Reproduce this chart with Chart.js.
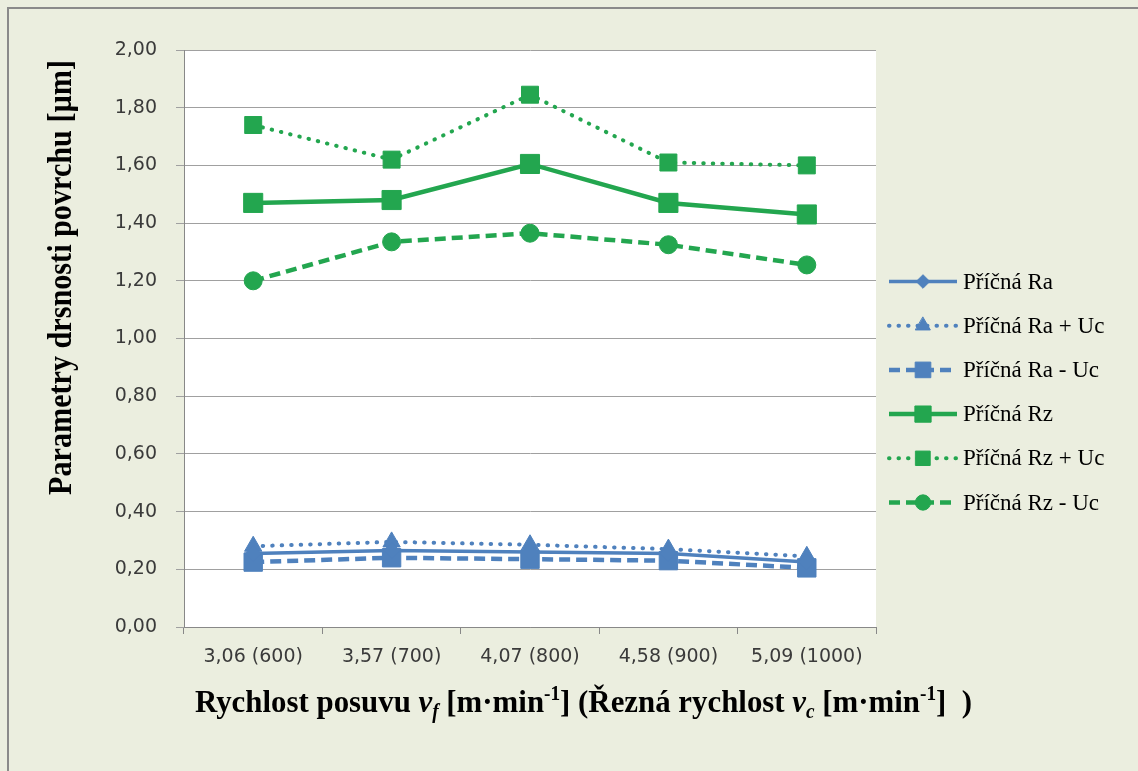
<!DOCTYPE html>
<html>
<head>
<meta charset="utf-8">
<title>Parametry drsnosti povrchu</title>
<script src="https://cdn.jsdelivr.net/npm/chart.js@4.4.1/dist/chart.umd.min.js"></script>
<style>
  html, body { margin: 0; padding: 0; background: #EBEEDF; }
  #wrap { width: 1138px; height: 771px; position: relative; }
</style>
</head>
<body>
<div id="wrap"><canvas id="chart" width="1138" height="771"></canvas></div>
<script>
// Feed / cutting speed categories
const categories = ['3,06 (600)', '3,57 (700)', '4,07 (800)', '4,58 (900)', '5,09 (1000)'];

// Roughness values [µm]
const raValues   = [0.255, 0.265, 0.26, 0.255, 0.225];
const raPlusUc   = [0.28, 0.295, 0.285, 0.27, 0.245];
const raMinusUc  = [0.225, 0.24, 0.235, 0.23, 0.205];
const rzValues   = [1.47, 1.48, 1.605, 1.47, 1.43];
const rzPlusUc   = [1.74, 1.62, 1.845, 1.61, 1.60];
const rzMinusUc  = [1.20, 1.335, 1.365, 1.325, 1.255];

const seriesNames = ['Příčná Ra', 'Příčná Ra + Uc', 'Příčná Ra - Uc', 'Příčná Rz', 'Příčná Rz + Uc', 'Příčná Rz - Uc'];

const yTitle = 'Parametry drsnosti povrchu [µm]';

const BLUE = '#4F81BD';
const GREEN = '#23A64F';
const BG = '#EBEEDF';

const DOTS = [0.5, 9];
const DASHES = [11, 6];

function series(label, data, color, opts) {
  return Object.assign({
    label, data,
    borderColor: color,
    backgroundColor: color,
    pointBackgroundColor: color,
    pointBorderColor: color,
    pointBorderWidth: 1,
    tension: 0,
    fill: false
  }, opts);
}

const datasets = [
  series(seriesNames[0], raValues, BLUE, { borderWidth: 3.5, pointStyle: 'rectRot', pointRadius: 8 }),
  series(seriesNames[1], raPlusUc, BLUE, { borderWidth: 4, borderDash: DOTS, borderCapStyle: 'round', pointStyle: 'triangle', pointRadius: 10 }),
  series(seriesNames[2], raMinusUc, BLUE, { borderWidth: 4.5, borderDash: DASHES, pointStyle: 'rect', pointRadius: 13 }),
  series(seriesNames[3], rzValues, GREEN, { borderWidth: 4.5, pointStyle: 'rect', pointRadius: 13.5 }),
  series(seriesNames[4], rzPlusUc, GREEN, { borderWidth: 4, borderDash: DOTS, borderCapStyle: 'round', pointStyle: 'rect', pointRadius: 12 }),
  series(seriesNames[5], rzMinusUc, GREEN, { borderWidth: 4.5, borderDash: DASHES, pointStyle: 'circle', pointRadius: 9 })
];

// Background, frame and white plot area
const framePlugin = {
  id: 'frame',
  beforeDraw(chart) {
    const { ctx, width, height, chartArea: a } = chart;
    ctx.save();
    ctx.fillStyle = BG;
    ctx.fillRect(0, 0, width, height);
    ctx.fillStyle = '#8A8A8A';
    ctx.fillRect(7, 7, width - 7, 2);
    ctx.fillRect(7, 7, 2, height - 7);
    ctx.fillStyle = '#FFFFFF';
    ctx.fillRect(a.left, a.top, a.right - a.left, a.bottom - a.top);
    ctx.restore();
  }
};

// Legend: line sample with marker, then the series name
const legendPlugin = {
  id: 'sideLegend',
  afterDraw(chart) {
    const { ctx } = chart;
    const x0 = 889, x1 = 957, xm = 923, tx = 963;
    ctx.save();
    chart.data.datasets.forEach((ds, i) => {
      const y = 281.5 + i * 44.2;
      ctx.strokeStyle = ds.borderColor;
      ctx.lineWidth = ds.borderWidth;
      ctx.lineCap = ds.borderCapStyle || 'butt';
      ctx.setLineDash(ds.borderDash || []);
      ctx.beginPath();
      ctx.moveTo(x0, y);
      ctx.lineTo(x1, y);
      ctx.stroke();
      ctx.setLineDash([]);
      ctx.fillStyle = ds.pointBackgroundColor;
      ctx.strokeStyle = ds.pointBorderColor;
      ctx.lineWidth = 1;
      Chart.helpers.drawPoint(ctx, {
        pointStyle: ds.pointStyle, radius: ds.pointRadius * 0.85, rotation: 0, borderWidth: 1
      }, xm, y);
      ctx.fillStyle = '#000';
      ctx.font = '23px "Liberation Serif", "Times New Roman", serif';
      ctx.textBaseline = 'middle';
      ctx.textAlign = 'left';
      ctx.fillText(ds.label, tx, y + 1);
    });
    ctx.restore();
  }
};

// Axis titles with italic symbols, sub- and superscripts
function fontOf(p, size) {
  const s = (p.sub || p.sup) ? Math.round(size * 0.62) : size;
  return (p.italic ? 'italic ' : '') + 'bold ' + s + 'px "Liberation Serif", "Times New Roman", serif';
}
function drawRich(ctx, parts, size, length) {
  let total = 0;
  parts.forEach(p => { ctx.font = fontOf(p, size); p.w = ctx.measureText(p.t).width; total += p.w; });
  const sx = length / total;
  ctx.save();
  ctx.scale(sx, 1);
  let cx = 0;
  parts.forEach(p => {
    ctx.font = fontOf(p, size);
    const dy = p.sup ? -size * 0.36 : (p.sub ? size * 0.2 : 0);
    ctx.fillText(p.t, cx, dy);
    cx += p.w;
  });
  ctx.restore();
}

const xTitleParts = [
  { t: 'Rychlost posuvu ' },
  { t: 'v', italic: true },
  { t: 'f', italic: true, sub: true },
  { t: ' [m·min' },
  { t: '-1', sup: true },
  { t: '] (Řezná rychlost ' },
  { t: 'v', italic: true },
  { t: 'c', italic: true, sub: true },
  { t: ' [m·min' },
  { t: '-1', sup: true },
  { t: ']  )' }
];

const titlesPlugin = {
  id: 'axisTitles',
  afterDraw(chart) {
    const { ctx } = chart;
    ctx.save();
    ctx.fillStyle = '#000';
    ctx.textBaseline = 'alphabetic';
    ctx.textAlign = 'left';
    // horizontal title
    ctx.save();
    ctx.translate(195, 712);
    drawRich(ctx, xTitleParts, 32, 777);
    ctx.restore();
    // vertical title
    ctx.save();
    ctx.translate(71, 495);
    ctx.rotate(-Math.PI / 2);
    drawRich(ctx, [{ t: yTitle }], 34, 435);
    ctx.restore();
    ctx.restore();
  }
};

new Chart(document.getElementById('chart'), {
  type: 'line',
  data: { labels: categories, datasets },
  options: {
    responsive: false,
    animation: false,
    devicePixelRatio: 1,
    layout: { padding: { left: 0, top: 50, right: 262, bottom: 0 } },
    plugins: {
      legend: { display: false },
      tooltip: { enabled: false },
      title: { display: false }
    },
    scales: {
      x: {
        type: 'category',
        offset: true,
        grid: {
          offset: true,
          drawOnChartArea: false,
          drawTicks: true,
          tickLength: 7,
          color: '#888888'
        },
        border: { display: true, color: '#888888', width: 1 },
        ticks: {
          color: '#3A3A3A',
          font: { family: '"DejaVu Sans", sans-serif', size: 19 },
          padding: 12,
          maxRotation: 0,
          autoSkip: false
        },
        afterFit(scale) { scale.height = 144; }
      },
      y: {
        min: 0,
        max: 2,
        grid: {
          color: '#A0A0A0',
          tickLength: 8,
          drawTicks: true
        },
        border: { display: true, color: '#888888', width: 1 },
        ticks: {
          stepSize: 0.2,
          color: '#3A3A3A',
          font: { family: '"DejaVu Sans", sans-serif', size: 19 },
          padding: 19,
          callback: v => v.toFixed(2).replace('.', ',')
        },
        afterFit(scale) { scale.width = 184; }
      }
    }
  },
  plugins: [framePlugin, legendPlugin, titlesPlugin]
});
</script>
</body>
</html>
